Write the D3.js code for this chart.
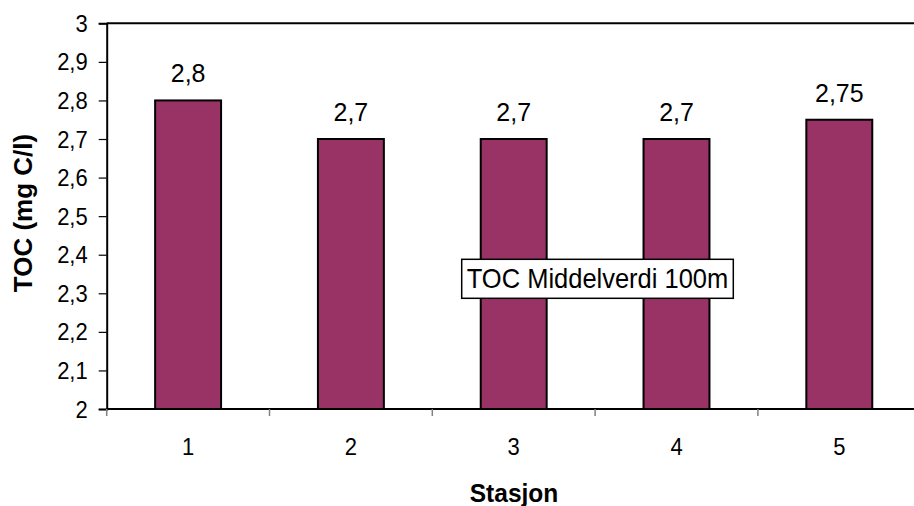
<!DOCTYPE html>
<html>
<head>
<meta charset="utf-8">
<script src="https://cdn.jsdelivr.net/npm/d3@7"></script>
<style>
  body { margin: 0; background: #fff; }
  text { font-family: "Liberation Sans", Arial, sans-serif; }
</style>
</head>
<body>
<svg id="chart" width="914" height="506"></svg>
<script>
// data
var stations = ["1", "2", "3", "4", "5"];
var tocValues = [2.8, 2.7, 2.7, 2.7, 2.75];
var valueLabels = ["2,8", "2,7", "2,7", "2,7", "2,75"];
var yTicks = [2, 2.1, 2.2, 2.3, 2.4, 2.5, 2.6, 2.7, 2.8, 2.9, 3];

var svg = d3.select("#chart");
var plotLeft = 106.7, plotTop = 23.3, plotBottom = 409, plotRight = 920.7;

var x = d3.scaleBand()
  .domain(stations)
  .range([plotLeft, plotRight])
  .paddingInner(0.595)
  .paddingOuter(0.2975);
var xb = d3.scaleBand().domain(stations).range([plotLeft, plotRight]);

var y = d3.scaleLinear()
  .domain([2, 3])
  .range([plotBottom, plotTop]);

var fmt = function(d) { return String(d).replace(".", ","); };

// text in the source is a little taller than wide, so some labels get a y stretch
function label(px, py, str, size, anchor, bold, rot, stretch) {
  var t = svg.append("text")
    .attr("transform", "translate(" + px + "," + py + ")" + (rot ? " rotate(-90)" : "") +
      " scale(1," + (stretch || 1) + ")")
    .attr("text-anchor", anchor)
    .attr("font-size", size)
    .text(str);
  if (bold) t.attr("font-weight", "bold");
  return t;
}

// plot frame top line
svg.append("line")
  .attr("x1", plotLeft).attr("x2", 914)
  .attr("y1", plotTop).attr("y2", plotTop)
  .attr("stroke", "#000").attr("stroke-width", 2);

// bars
svg.append("g").selectAll("rect")
  .data(tocValues)
  .enter()
  .append("rect")
  .attr("x", function(d, i) { return x(stations[i]); })
  .attr("y", function(d) { return y(d); })
  .attr("width", x.bandwidth())
  .attr("height", function(d) { return plotBottom - y(d); })
  .attr("fill", "#993366")
  .attr("stroke", "#000")
  .attr("stroke-width", 2);

// value labels
tocValues.forEach(function(d, i) {
  label(x(stations[i]) + x.bandwidth() / 2, y(d) - 18, valueLabels[i], 25, "middle", false, false, 1.03);
});

// Y axis
var yAxis = svg.append("g")
  .attr("transform", "translate(" + plotLeft + ",0)")
  .call(d3.axisLeft(y).tickValues(yTicks).tickSize(8).tickPadding(11).tickFormat(fmt));
yAxis.select(".domain").attr("stroke", "#000").attr("stroke-width", 2);
yAxis.selectAll(".tick line").attr("stroke", "#000").attr("stroke-width", 1.2);
yAxis.selectAll(".tick text")
  .attr("font-size", 22).attr("fill", "#000")
  .attr("font-family", "Liberation Sans, Arial, sans-serif")
  .attr("dy", null)
  .attr("transform", "translate(0,8) scale(1,1.1)");

// X axis
var xAxis = svg.append("g")
  .attr("transform", "translate(0," + plotBottom + ")")
  .call(d3.axisBottom(xb).tickSize(0).tickPadding(0));
xAxis.select(".domain").remove();
xAxis.selectAll(".tick text")
  .attr("font-size", 22).attr("fill", "#000")
  .attr("font-family", "Liberation Sans, Arial, sans-serif")
  .attr("dy", null).attr("y", 0)
  .attr("transform", "translate(0,46) scale(1,1.08)");
svg.append("line")
  .attr("x1", plotLeft).attr("x2", 914)
  .attr("y1", plotBottom).attr("y2", plotBottom)
  .attr("stroke", "#000").attr("stroke-width", 2);
// category separators
svg.append("g").selectAll("line")
  .data(stations)
  .enter()
  .append("line")
  .attr("x1", function(d) { return xb(d); })
  .attr("x2", function(d) { return xb(d); })
  .attr("y1", plotBottom).attr("y2", plotBottom + 7)
  .attr("stroke", "#808080").attr("stroke-width", 1.5);

// axis titles
label(514, 501.5, "Stasjon", 24.5, "middle", true, false, 1.06);
label(31.5, 213, "TOC (mg C/l)", 26, "middle", true, true, 1.0);

// series label box
svg.append("rect")
  .attr("x", 461.7).attr("y", 259.3)
  .attr("width", 271.6).attr("height", 39)
  .attr("fill", "#fff").attr("stroke", "#000").attr("stroke-width", 1.5);
label(597.5, 287.5, "TOC Middelverdi 100m", 25.5, "middle", false, false, 1.08);
</script>
</body>
</html>
